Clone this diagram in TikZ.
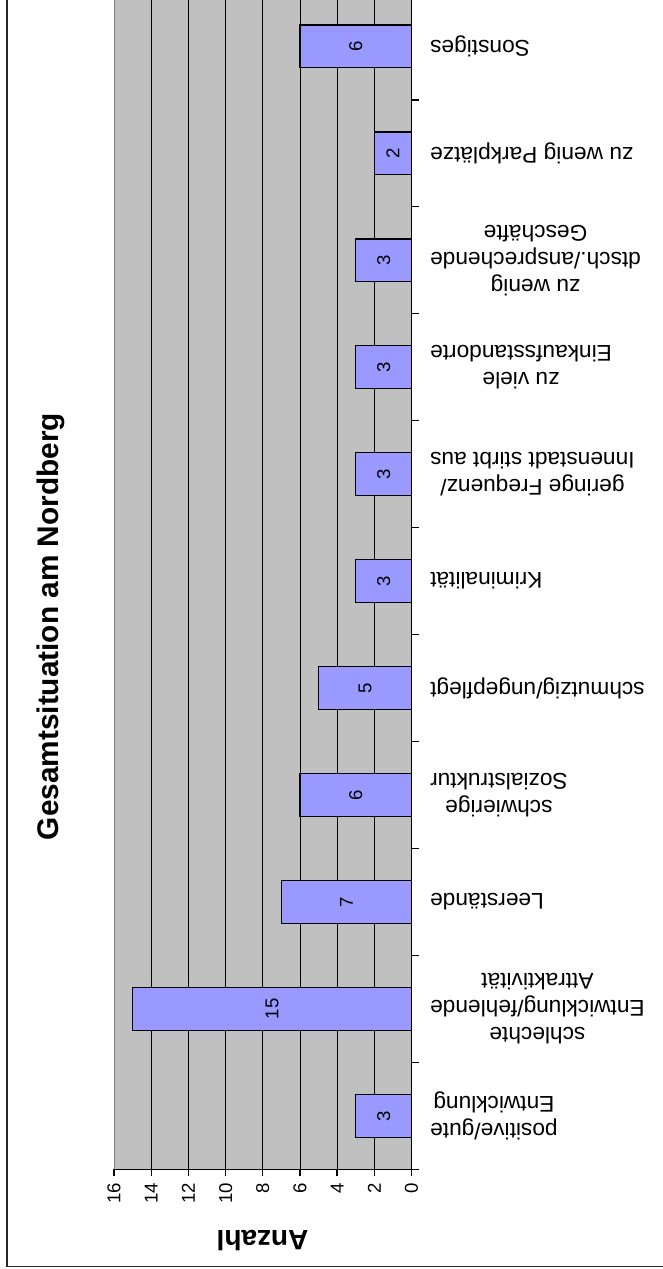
\documentclass[tikz,border=0pt]{standalone}
\usepackage{fontspec}
\setmainfont{Liberation Sans}
\usetikzlibrary{positioning}

\definecolor{plotgray}{HTML}{C0C0C0}
\definecolor{barblue}{HTML}{9999FF}
\definecolor{edgegray}{HTML}{808080}

\tikzset{
    plotarea/.style={fill=plotgray, draw=edgegray, line width=1},
    gridline/.style={black, line width=0.9},
    axisline/.style={black, line width=1.4},
    barbox/.style={fill=barblue, draw=black, line width=1.4},
    ticklabel/.style={inner sep=0, rotate=90, anchor=east, font=\fontsize{18.6}{22}\selectfont},
    vallabel/.style={inner sep=0, rotate=90, font=\fontsize{18.6}{22}\selectfont},
    catlabel/.style={inner sep=0, rotate=180, anchor=east, align=center, font=\fontsize{22.7}{27}\selectfont},
    frameline/.style={black!85, line width=1.2}
}

\begin{document}
\begin{tikzpicture}[x=1pt, y=-1pt]
        \useasboundingbox (0,0) rectangle (663,1269);

        % axis geometry in pixels
        \def\xz{411.5}
        \def\ux{18.59}
        \def\yb{1169.3}
        \def\cw{106.95}

        \draw[frameline] (7,-10) -- (7,1266.5) -- (680,1266.5);

        \draw[plotarea] (114,-20) rectangle (\xz,\yb);

        \foreach \v in {2,4,...,14}{
            \draw[gridline] ({\xz-\v*\ux},-20) -- ({\xz-\v*\ux},\yb);
        }

        % bars and values
        \foreach \v [count=\i from 0] in {3,15,7,6,5,3,3,3,3,2,6}{
            \draw[barbox] ({\xz-\v*\ux},{\yb-(\i+0.3)*\cw})
                rectangle (\xz,{\yb-(\i+0.7)*\cw});
            \node[vallabel](val\i) at ({\xz-\v*\ux/2},{\yb-(\i+0.5)*\cw}){\v};
        }

        % value axis
        \draw[axisline] (114,\yb) -- (\xz,\yb);
        \foreach \v in {0,2,...,16}{
            \draw[axisline] ({\xz-\v*\ux},\yb) -- ({\xz-\v*\ux},1175.5);
            \node[ticklabel](tick\v) at ({\xz-\v*\ux},1183){\v};
        }

        % category axis
        \draw[axisline] (\xz,-20) -- (\xz,\yb);
        \foreach \k in {0,...,11}{
            \draw[axisline] (\xz,{\yb-\k*\cw}) -- (419,{\yb-\k*\cw});
        }

        \foreach \lab [count=\i from 0] in {
            {positive/gute\\Entwicklung},
            {schlechte\\Entwicklung/fehlende\\Attraktivität},
            {Leerstände},
            {schwierige\\Sozialstruktur},
            {schmutzig/ungepflegt},
            {Kriminalität},
            {geringe Frequenz/\\Innenstadt stirbt aus},
            {zu viele\\Einkaufsstandorte},
            {zu wenig\\dtsch./ansprechende\\Geschäfte},
            {zu wenig Parkplätze},
            {Sonstiges}}{
            \node[catlabel](cat\i) at (430,{\yb-(\i+0.5)*\cw}){\lab};
        }

        \node[
            inner sep=0,
            rotate=180,
            font=\bfseries\fontsize{28}{32}\selectfont
        ](ytitle) at (262.5,1240){Anzahl};

        \node[
            inner sep=0,
            rotate=90,
            font=\bfseries\fontsize{29.8}{34}\selectfont
        ](title) at (51,626.5){Gesamtsituation am Nordberg};
    \end{tikzpicture}
\end{document}
